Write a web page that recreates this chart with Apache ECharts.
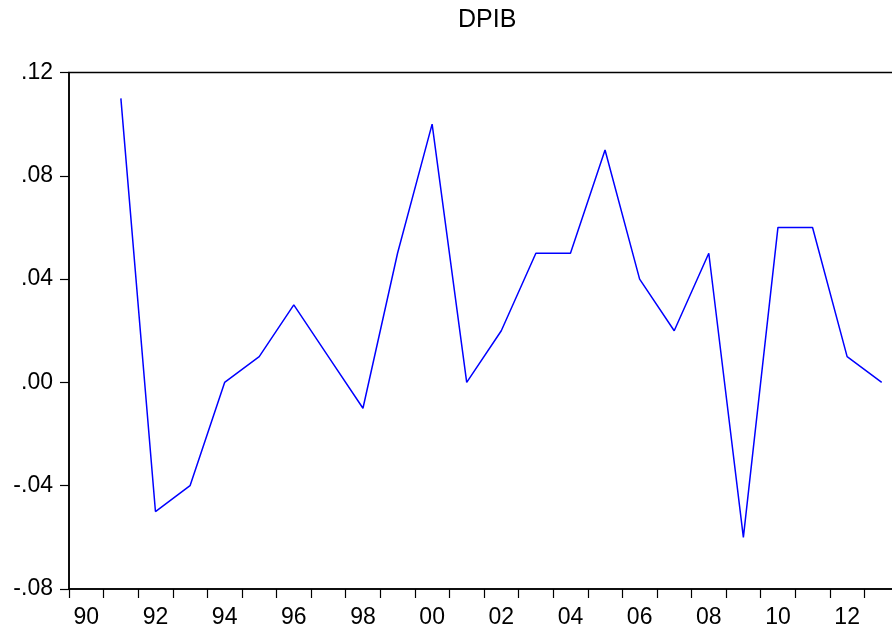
<!DOCTYPE html>
<html>
<head>
<meta charset="utf-8">
<script src="https://cdn.jsdelivr.net/npm/echarts@6/dist/echarts.min.js"></script>
<style>
  html, body { margin: 0; padding: 0; background: #ffffff; }
  #chart { width: 892px; height: 631px; }
</style>
</head>
<body>
<div id="chart"></div>
<script>
// Annual growth of GDP (first difference), 1990-2013
const years = ['1990','1991','1992','1993','1994','1995','1996','1997','1998','1999','2000','2001',
               '2002','2003','2004','2005','2006','2007','2008','2009','2010','2011','2012','2013'];
const dpib = [null, 0.11, -0.05, -0.04, 0.00, 0.01, 0.03, 0.01, -0.01, 0.05, 0.10, 0.00,
              0.02, 0.05, 0.05, 0.09, 0.04, 0.02, 0.05, -0.06, 0.06, 0.06, 0.01, 0.00];
const yTicks = [-0.08, -0.04, 0.00, 0.04, 0.08, 0.12];

const fontFamily = '"Liberation Sans", Arial, sans-serif';

const chart = echarts.init(document.getElementById('chart'), null, { renderer: 'canvas' });

function fmtY(v) {
  const s = Math.abs(v).toFixed(2).replace(/^0/, '');
  return (v < -1e-9 ? '-' : '') + s;
}

chart.setOption({
  animation: false,
  backgroundColor: '#ffffff',
  title: {
    text: 'DPIB',
    left: 453,
    top: 3,
    textStyle: { fontFamily, fontSize: 25, fontWeight: 'normal', color: '#000' }
  },
  grid: {
    left: 69, top: 72.5, width: 830, height: 516.5,
    outerBoundsMode: 'none',
    containLabel: false,
    show: true, borderColor: '#000', borderWidth: 1.5, backgroundColor: 'transparent'
  },
  xAxis: {
    type: 'category',
    data: years,
    boundaryGap: true,
    axisLine: { show: true, onZero: false, lineStyle: { color: '#000', width: 1.5 } },
    axisTick: { show: true, interval: 0, inside: false, length: 9, lineStyle: { color: '#000', width: 1.2 } },
    axisLabel: {
      interval: 1,
      margin: 17,
      fontFamily, fontSize: 23, color: '#000',
      formatter: (v) => v.slice(2)
    },
    splitLine: { show: false }
  },
  yAxis: {
    type: 'value',
    min: yTicks[0],
    max: yTicks[yTicks.length - 1],
    interval: 0.04,
    axisLine: { show: true, lineStyle: { color: '#000', width: 1.5 } },
    axisTick: { show: true, inside: false, length: 9, lineStyle: { color: '#000', width: 1.2 } },
    axisLabel: {
      margin: 16,
      fontFamily, fontSize: 23, color: '#000',
      formatter: fmtY
    },
    splitLine: { show: false }
  },
  series: [{
    type: 'line',
    data: dpib,
    showSymbol: false,
    symbol: 'none',
    connectNulls: false,
    lineStyle: { color: '#0000ff', width: 1.5 },
    itemStyle: { color: '#0000ff' }
  }]
});
</script>
</body>
</html>
